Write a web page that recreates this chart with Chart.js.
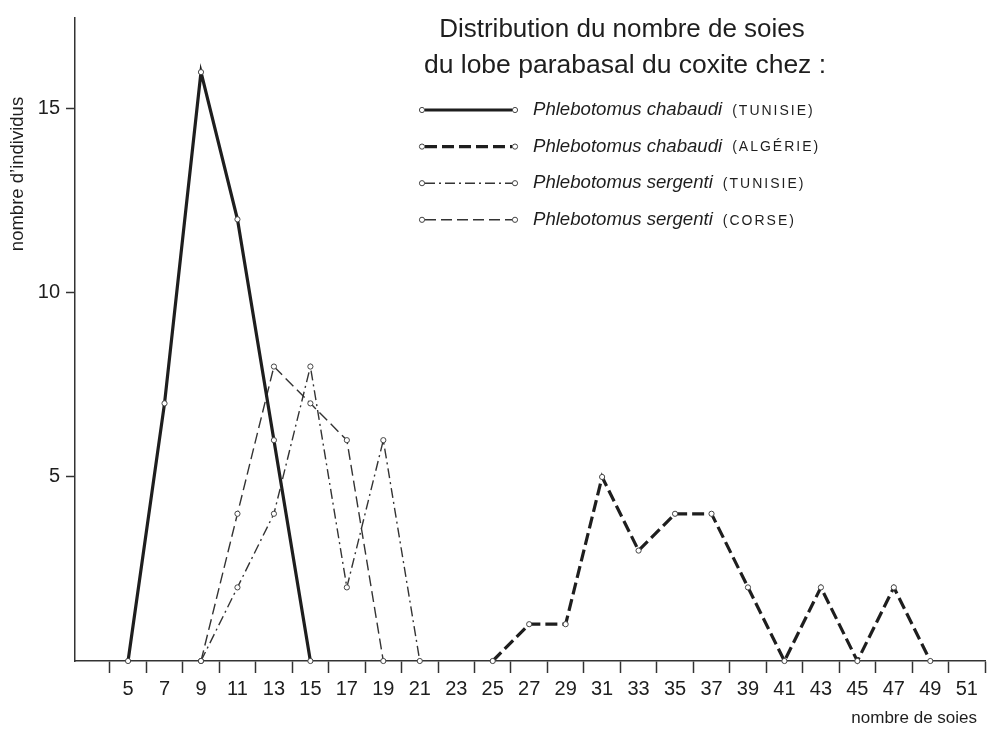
<!DOCTYPE html>
<html><head><meta charset="utf-8">
<script src="https://cdn.jsdelivr.net/npm/chart.js@4.4.0/dist/chart.umd.min.js"></script>
<style>html,body{margin:0;padding:0;background:#fff}#wrap{width:989px;height:730px;position:relative}</style>
</head><body><div id="wrap"><canvas id="c" width="989" height="730"></canvas></div>
<script>
// ---- data ----
const titleLines = ["Distribution du nombre de soies", "du lobe parabasal du coxite chez :"];
const seriesNames = ["Phlebotomus chabaudi", "Phlebotomus chabaudi", "Phlebotomus sergenti", "Phlebotomus sergenti"];
const seriesOrigins = ["(TUNISIE)", "(ALGÉRIE)", "(TUNISIE)", "(CORSE)"];
const chabaudiTunisieX = [5, 7, 9, 11, 13, 15];
const chabaudiTunisieY = [0, 7, 16, 12, 6, 0];
const chabaudiAlgerieX = [25, 27, 29, 31, 33, 35, 37, 39, 41, 43, 45, 47, 49];
const chabaudiAlgerieY = [0, 1, 1, 5, 3, 4, 4, 2, 0, 2, 0, 2, 0];
const sergentiTunisieX = [9, 11, 13, 15, 17, 19, 21];
const sergentiTunisieY = [0, 2, 4, 8, 2, 6, 0];
const sergentiCorseX = [9, 11, 13, 15, 17, 19];
const sergentiCorseY = [0, 4, 8, 7, 6, 0];
const xTickValues = [4,5,6,7,8,9,10,11,12,13,14,15,16,17,18,19,20,21,22,23,24,25,26,27,28,29,30,31,32,33,34,35,36,37,38,39,40,41,42,43,44,45,46,47,48,49,50,51,52];
const xLabelValues = [5,7,9,11,13,15,17,19,21,23,25,27,29,31,33,35,37,39,41,43,45,47,49,51];
const yTickValues = [5, 10, 15];
const xTitle = "nombre de soies";
const yTitle = "nombre d’individus";

const INK = '#1e1e1e';
const FONT = '"Liberation Sans", Arial, sans-serif';

function pts(xs, ys) { return xs.map((x, i) => ({ x: x, y: ys[i] })); }

const common = {
  borderColor: INK, fill: false, tension: 0, clip: false,
  pointRadius: 2.6, pointHoverRadius: 2.6, pointBackgroundColor: '#fff',
  pointBorderColor: '#444', pointBorderWidth: 1
};

const datasets = [
  Object.assign({}, common, { label: seriesNames[0] + ' ' + seriesOrigins[0], data: pts(chabaudiTunisieX, chabaudiTunisieY), borderWidth: 3.2, borderDash: [] }),
  Object.assign({}, common, { label: seriesNames[1] + ' ' + seriesOrigins[1], data: pts(chabaudiAlgerieX, chabaudiAlgerieY), borderWidth: 3.2, borderDash: [12, 5] }),
  Object.assign({}, common, { label: seriesNames[2] + ' ' + seriesOrigins[2], data: pts(sergentiTunisieX, sergentiTunisieY), borderWidth: 1.4, borderColor: '#333', borderDash: [10, 4, 2, 4] }),
  Object.assign({}, common, { label: seriesNames[3] + ' ' + seriesOrigins[3], data: pts(sergentiCorseX, sergentiCorseY), borderWidth: 1.4, borderColor: '#333', borderDash: [11, 5] })
];

const decor = {
  id: 'decor',
  afterDraw(chart) {
    const ctx = chart.ctx;
    ctx.save();
    ctx.fillStyle = INK;
    // title
    ctx.font = '26px ' + FONT;
    ctx.textAlign = 'center';
    ctx.textBaseline = 'alphabetic';
    ctx.fillText(titleLines[0], 622, 37);
    ctx.font = '26.5px ' + FONT;
    ctx.fillText(titleLines[1], 625, 73);
    // legend
    const x0 = 422, x1 = 515, tx = 533;
    datasets.forEach((ds, i) => {
      const y = 110 + i * 36.6;
      ctx.save();
      ctx.strokeStyle = ds.borderColor;
      ctx.lineWidth = ds.borderWidth;
      ctx.setLineDash(ds.borderDash);
      ctx.beginPath(); ctx.moveTo(x0 + 3, y); ctx.lineTo(x1 - 3, y); ctx.stroke();
      ctx.setLineDash([]);
      ctx.lineWidth = 1; ctx.strokeStyle = '#444'; ctx.fillStyle = '#fff';
      [x0, x1].forEach(px => { ctx.beginPath(); ctx.arc(px, y, 2.6, 0, Math.PI * 2); ctx.fill(); ctx.stroke(); });
      ctx.restore();
      ctx.fillStyle = INK;
      ctx.textAlign = 'left';
      ctx.textBaseline = 'middle';
      ctx.font = 'italic 18.6px ' + FONT;
      ctx.fillText(seriesNames[i], tx, y);
      const w = ctx.measureText(seriesNames[i]).width;
      ctx.font = '14px ' + FONT;
      if ('letterSpacing' in ctx) ctx.letterSpacing = '2px';
      ctx.fillText(seriesOrigins[i], tx + w + 10, y + 1);
      if ('letterSpacing' in ctx) ctx.letterSpacing = '0px';
    });
    // axis titles
    ctx.font = '17px ' + FONT;
    ctx.textAlign = 'right';
    ctx.textBaseline = 'alphabetic';
    ctx.fillText(xTitle, 977, 723);
    ctx.save();
    ctx.translate(23, 174);
    ctx.rotate(-Math.PI / 2);
    ctx.textAlign = 'center';
    ctx.textBaseline = 'alphabetic';
    ctx.font = '18.5px ' + FONT;
    ctx.fillText(yTitle, 0, 0);
    ctx.restore();
    ctx.restore();
  }
};

new Chart(document.getElementById('c'), {
  type: 'line',
  data: { datasets: datasets },
  plugins: [decor],
  options: {
    responsive: false, animation: false, devicePixelRatio: 1,
    parsing: true,
    layout: { padding: { top: 17, right: -4, left: 0, bottom: 0 } },
    plugins: { legend: { display: false }, title: { display: false }, tooltip: { enabled: false } },
    events: [],
    scales: {
      x: {
        type: 'linear', min: 2.09, max: 52,
        afterBuildTicks: (s) => { s.ticks = xTickValues.map(v => ({ value: v })); },
        afterFit: (s) => { s.height = 69; },
        border: { display: true, color: '#333', width: 1.5 },
        grid: { drawOnChartArea: false, drawTicks: true, tickLength: 12, tickWidth: 1.5,
          tickColor: (c) => (c.tick && xLabelValues.indexOf(c.tick.value) === -1) ? '#333' : 'rgba(0,0,0,0)' },
        ticks: { autoSkip: false, maxRotation: 0, padding: 4, color: INK, font: { family: FONT, size: 20 },
          callback: (v) => xLabelValues.indexOf(v) !== -1 ? String(v) : '' }
      },
      y: {
        type: 'linear', min: 0, max: 17.47,
        afterBuildTicks: (s) => { s.ticks = yTickValues.map(v => ({ value: v })); },
        afterFit: (s) => { s.width = 75; },
        border: { display: true, color: '#333', width: 1.5 },
        grid: { drawOnChartArea: false, drawTicks: true, tickLength: 9, tickWidth: 1.5, tickColor: '#333' },
        ticks: { padding: 6, color: INK, font: { family: FONT, size: 20 } }
      }
    }
  }
});
</script></body></html>
